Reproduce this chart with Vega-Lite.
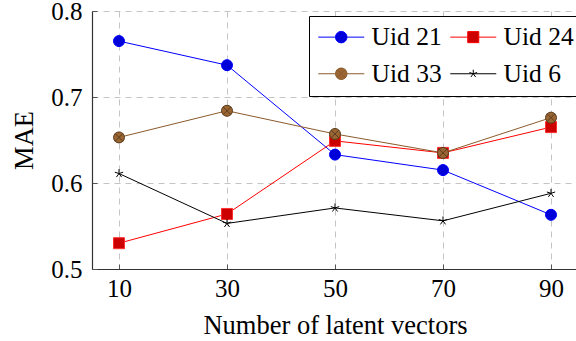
{
  "$schema": "https://vega.github.io/schema/vega-lite/v6.json",
  "autosize": "none",
  "width": 486,
  "height": 258,
  "padding": {"left": 92, "top": 11, "right": 0, "bottom": 72},
  "background": "white",
  "config": {
    "font": "Liberation Serif",
    "view": {"stroke": null},
    "axis": {
      "labelFont": "Liberation Serif",
      "titleFont": "Liberation Serif",
      "labelFontSize": 25,
      "titleFontSize": 26.5,
      "labelColor": "black",
      "titleColor": "black",
      "titleFontWeight": "normal",
      "domainColor": "#333333",
      "domainWidth": 1.2,
      "tickColor": "#555555",
      "tickSize": -5,
      "grid": true,
      "gridColor": "#c4c4c4",
      "gridDash": [6, 5],
      "gridWidth": 1
    }
  },
  "data": {
    "values": [
      {"k": 10, "series": "Uid 21", "mae": 0.765},
      {"k": 30, "series": "Uid 21", "mae": 0.737},
      {"k": 50, "series": "Uid 21", "mae": 0.633},
      {"k": 70, "series": "Uid 21", "mae": 0.615},
      {"k": 90, "series": "Uid 21", "mae": 0.563},
      {"k": 10, "series": "Uid 24", "mae": 0.530},
      {"k": 30, "series": "Uid 24", "mae": 0.564},
      {"k": 50, "series": "Uid 24", "mae": 0.649},
      {"k": 70, "series": "Uid 24", "mae": 0.635},
      {"k": 90, "series": "Uid 24", "mae": 0.665},
      {"k": 10, "series": "Uid 33", "mae": 0.653},
      {"k": 30, "series": "Uid 33", "mae": 0.684},
      {"k": 50, "series": "Uid 33", "mae": 0.657},
      {"k": 70, "series": "Uid 33", "mae": 0.635},
      {"k": 90, "series": "Uid 33", "mae": 0.676},
      {"k": 10, "series": "Uid 6", "mae": 0.611},
      {"k": 30, "series": "Uid 6", "mae": 0.553},
      {"k": 50, "series": "Uid 6", "mae": 0.571},
      {"k": 70, "series": "Uid 6", "mae": 0.556},
      {"k": 90, "series": "Uid 6", "mae": 0.588}
    ]
  },
  "encoding": {
    "x": {
      "field": "k",
      "type": "quantitative",
      "scale": {"domain": [5, 95], "nice": false, "zero": false},
      "axis": {"values": [10, 30, 50, 70, 90], "title": "Number of latent vectors", "labelPadding": 12, "titlePadding": 11}
    },
    "y": {
      "field": "mae",
      "type": "quantitative",
      "scale": {"domain": [0.5, 0.8], "nice": false, "zero": false},
      "axis": {"values": [0.5, 0.6, 0.7, 0.8], "format": ".1f", "title": "MAE", "labelPadding": 15, "titlePadding": 12}
    }
  },
  "layer": [
    {
      "mark": {"type": "line", "strokeWidth": 1},
      "encoding": {
        "color": {
          "field": "series",
          "type": "nominal",
          "scale": {"domain": ["Uid 21", "Uid 24", "Uid 33", "Uid 6"], "range": ["#0000ff", "#ff0000", "#8b5a2b", "#000000"]},
          "legend": {
            "title": null,
            "orient": "none",
            "legendX": 217,
            "legendY": 5,
            "direction": "horizontal",
            "columns": 2,
            "columnPadding": 6,
            "rowPadding": 10,
            "padding": 8,
            "strokeColor": "black",
            "fillColor": "white",
            "symbolSize": 529,
            "symbolStrokeWidth": 1,
            "labelOffset": 29,
            "labelFont": "Liberation Serif",
            "labelFontSize": 25.5,
            "labelColor": "black",
            "encode": {
              "symbols": {
                "update": {
                  "size": {"value": 529},
                  "strokeWidth": {"value": 1},
                  "fill": {"signal": "datum.value === 'Uid 21' ? '#0000d8' : datum.value === 'Uid 24' ? '#cc0000' : datum.value === 'Uid 33' ? '#996633' : '#000000'"},
                  "shape": {"signal": "datum.value === 'Uid 21' ? 'M-1,0L0.5,0M1.5,0L3,0M0.5,0A0.5,0.5 0 1,0 1.5,0A0.5,0.5 0 1,0 0.5,0Z' : datum.value === 'Uid 24' ? 'M-1,0L0.52,0M1.48,0L3,0M0.52,-0.48L1.48,-0.48L1.48,0.48L0.52,0.48Z' : datum.value === 'Uid 33' ? 'M-1,0L0.5,0M1.5,0L3,0M0.5,0A0.5,0.5 0 1,0 1.5,0A0.5,0.5 0 1,0 0.5,0ZM0.646,-0.354L1.354,0.354M0.646,0.354L1.354,-0.354' : 'M-1,0L3,0M1,0L1,-0.35M1,0L1.333,-0.108M1,0L1.206,0.283M1,0L0.794,0.283M1,0L0.667,-0.108'"}
                }
              }
            }
          }
        }
      }
    },
    {
      "transform": [{"filter": "datum.series === 'Uid 21'"}],
      "mark": {"type": "point", "filled": true, "opacity": 1, "size": 121, "strokeWidth": 1, "shape": "M-1,0A1,1 0 1,0 1,0A1,1 0 1,0 -1,0Z", "fill": "#0000d8", "stroke": "#0000ff"}
    },
    {
      "transform": [{"filter": "datum.series === 'Uid 24'"}],
      "mark": {"type": "point", "filled": true, "opacity": 1, "size": 121, "strokeWidth": 1, "shape": "M-1,-1L1,-1L1,1L-1,1Z", "fill": "#cc0000", "stroke": "#ff3030"}
    },
    {
      "transform": [{"filter": "datum.series === 'Uid 33'"}],
      "mark": {"type": "point", "filled": true, "opacity": 1, "size": 121, "strokeWidth": 1, "shape": "M-1,0A1,1 0 1,0 1,0A1,1 0 1,0 -1,0ZM-0.707,-0.707L0.707,0.707M-0.707,0.707L0.707,-0.707", "fill": "#996633", "stroke": "#5c3d1e"}
    },
    {
      "transform": [{"filter": "datum.series === 'Uid 6'"}],
      "mark": {"type": "point", "filled": false, "opacity": 1, "size": 121, "strokeWidth": 1, "shape": "M0,0L0,-0.8M0,0L0.761,-0.247M0,0L0.47,0.647M0,0L-0.47,0.647M0,0L-0.761,-0.247", "stroke": "#000000"}
    }
  ]
}
